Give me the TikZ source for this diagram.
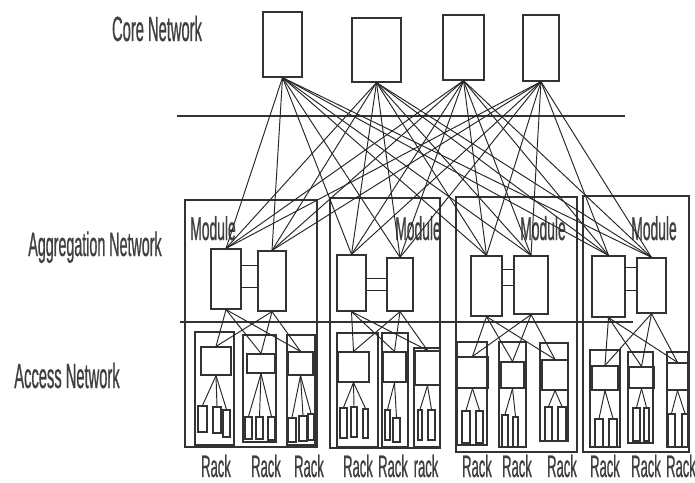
\documentclass[tikz,border=0pt]{standalone}
\usepackage{fontspec}
\newfontfamily\lblfont{Liberation Sans}[FakeStretch=0.42,FakeBold=0.6]
\usetikzlibrary{fit}
\begin{document}
\begin{tikzpicture}[x=1pt,y=-1pt,
  sw/.style={draw=black!80, line width=1.2pt, inner sep=0pt},
  modbox/.style={draw=black!80, line width=1.2pt, inner sep=0pt},
  rackbox/.style={draw=black!80, line width=1.1pt, inner sep=0pt},
  link/.style={draw=black!85, line width=0.95pt},
  sep/.style={draw=black!80, line width=1.4pt},
  lbl/.style={inner sep=0pt, anchor=base, text=black!75, font=\lblfont\fontsize{#1}{#1}\selectfont},
  lbl/.default=30
]
\useasboundingbox[fill=white] (0,0) rectangle (695,482);

% layer labels
\node[lbl=35] (lcore) at (157,41) {Core Network};
\node[lbl=34] (lagg) at (95,256) {Aggregation Network};
\node[lbl=35] (lacc) at (67,388) {Access Network};

% separators
\coordinate (h1l) at (177,116); \coordinate (h1r) at (625,116);
\coordinate (h2l) at (180,322); \coordinate (h2r) at (633,322);
\draw[sep] (h1l) -- (h1r);
\draw[sep] (h2l) -- (h2r);

% core switches
\foreach \n/\xa/\ya/\xb/\yb in {c1/263/12/302/77, c2/352/18/401/82, c3/443/15/484/80, c4/523/15/559/81}
  \node[sw, fit={(\xa,\ya)(\xb,\yb)}] (\n) {};

% modules
\foreach \n/\xa/\ya/\xb/\yb in {m1/185/200/317/447, m2/330/198/440/448, m3/456/197/577/452, m4/583/196/689/452}
  \node[modbox, fit={(\xa,\ya)(\xb,\yb)}] (\n) {};
\foreach \n/\x in {ml1/213, ml2/418, ml3/543, ml4/654}
  \node[lbl=33] (\n) at (\x,240) {Module};

% aggregation switches
\foreach \n/\xa/\ya/\xb/\yb in {a1a/211/249/241/309, a1b/258/251/286/311,
  a2a/337/255/366/311, a2b/387/258/413/311,
  a3a/471/256/502/316, a3b/514/256/548/314,
  a4a/592/256/625/317, a4b/637/258/666/313}
  \node[sw, fit={(\xa,\ya)(\xb,\yb)}] (\n) {};

% aggregation pair links
\foreach \m/\ya/\yb in {1/265/287, 2/278/290, 3/269/285, 4/267/290}{
  \draw[link] (a\m a.east |- 0,\ya) -- (a\m b.west |- 0,\ya);
  \draw[link] (a\m a.east |- 0,\yb) -- (a\m b.west |- 0,\yb);
}

% rack boxes
\foreach \n/\xa/\ya/\xb/\yb in {r11/195/332/234/445, r12/243/335/276/442, r13/287/335/315/445,
  r21/337/333/378/447, r22/382/333/408/447, r23/414/348/440/447,
  r31/457/342/487/445, r32/499/342/526/447, r33/540/343/568/441,
  r41/590/350/620/447, r42/628/352/653/443, r43/667/352/688/447}
  \node[rackbox, fit={(\xa,\ya)(\xb,\yb)}] (\n) {};

% top-of-rack switches
\foreach \n/\xa/\ya/\xb/\yb in {t11/201/347/231/375, t12/247/354/275/373, t13/288/352/313/375,
  t21/338/352/369/382, t22/383/352/406/382, t23/415/351/440/385,
  t31/457/357/488/388, t32/501/362/524/388, t33/542/360/568/390,
  t41/592/366/618/390, t42/629/367/654/388, t43/667/363/688/390}
  \node[sw, fit={(\xa,\ya)(\xb,\yb)}] (\n) {};

% servers
\foreach \n/\xa/\ya/\xb/\yb in {
  s111/198/406/207/432, s112/213/407/221/433, s113/223/410/230/437,
  s121/245/417/252/439, s122/256/417/263/439, s123/268/417/275/440,
  s131/288/418/296/442, s132/299/416/307/441, s133/308/414/314/440,
  s211/340/408/347/438, s212/351/407/357/437, s213/363/409/368/438,
  s221/385/410/390/440, s222/393/418/400/442,
  s231/418/410/422/440, s232/428/410/435/440,
  s311/462/411/470/443, s312/476/411/483/443,
  s321/502/415/508/447, s322/513/417/518/447,
  s331/545/407/552/441, s332/558/407/566/441,
  s411/595/419/603/447, s412/609/419/617/447,
  s421/633/408/640/441, s422/644/408/649/441,
  s431/668/414/675/447, s432/682/414/688/447}
  \node[rackbox, fit={(\xa,\ya)(\xb,\yb)}] (\n) {};

% rack labels
\foreach \n/\x/\t in {k1/216/Rack, k2/266/Rack, k3/309/Rack, k4/358/Rack, k5/393/Rack, k6/426/rack,
  k7/477/Rack, k8/517/Rack, k9/562/Rack, k10/605/Rack, k11/646/Rack, k12/681/Rack}
  \node[lbl=31] (\n) at (\x,477) {\t};

% core to aggregation links
\foreach \c in {c1,c2,c3,c4}
  \foreach \a in {a1a,a1b,a2a,a2b,a3a,a3b,a4a,a4b}
    \draw[link] (\c.south) -- (\a.north);

% aggregation to top-of-rack links
\foreach \m in {1,2,3,4}
  \foreach \s in {a,b}
    \foreach \r in {1,2,3}
      \draw[link] (a\m\s.south) -- (t\m\r.north);

% top-of-rack to server links
\foreach \t/\s in {t11/s111, t11/s112, t11/s113, t12/s121, t12/s122, t12/s123,
  t13/s131, t13/s132, t13/s133, t21/s211, t21/s212, t21/s213,
  t22/s221, t22/s222, t23/s231, t23/s232, t31/s311, t31/s312,
  t32/s321, t32/s322, t33/s331, t33/s332, t41/s411, t41/s412,
  t42/s421, t42/s422, t43/s431, t43/s432}
  \draw[link] (\t.south) -- (\s.north);
\end{tikzpicture}
\end{document}
